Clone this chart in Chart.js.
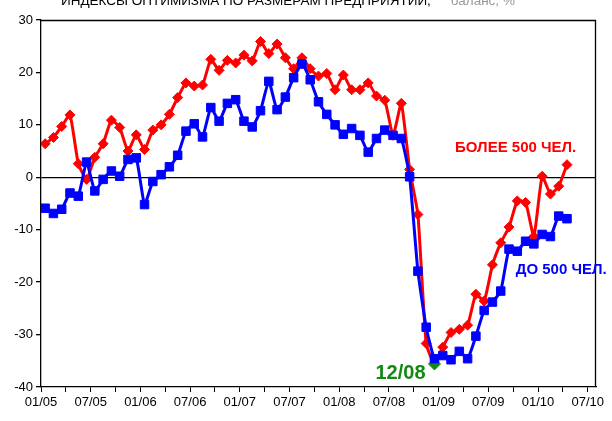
<!DOCTYPE html>
<html><head><meta charset="utf-8">
<script src="https://cdn.jsdelivr.net/npm/chart.js@4/dist/chart.umd.min.js"></script>
<style>html,body{margin:0;padding:0;background:#fff;} #wrap{position:relative;width:612px;height:421px;}</style>
</head><body><div id="wrap"><canvas id="c" width="612" height="421"></canvas></div>
<script>
// Month categories (axis slots), Jan 2005 .. Jul 2010
const months = [
 '01/05','02/05','03/05','04/05','05/05','06/05','07/05','08/05','09/05','10/05','11/05','12/05',
 '01/06','02/06','03/06','04/06','05/06','06/06','07/06','08/06','09/06','10/06','11/06','12/06',
 '01/07','02/07','03/07','04/07','05/07','06/07','07/07','08/07','09/07','10/07','11/07','12/07',
 '01/08','02/08','03/08','04/08','05/08','06/08','07/08','08/08','09/08','10/08','11/08','12/08',
 '01/09','02/09','03/09','04/09','05/09','06/09','07/09','08/09','09/09','10/09','11/09','12/09',
 '01/10','02/10','03/10','04/10','05/10','06/10','07/10'
];
// Series: more than 500 employees (red)
const large = [6.4,7.6,9.7,11.9,2.6,-0.4,3.8,6.4,10.9,9.5,5.0,8.1,
 5.3,9.0,10.0,12.0,15.2,18.0,17.4,17.6,22.5,20.4,22.3,21.8,
 23.3,22.2,25.9,23.6,25.4,22.8,20.7,22.8,20.7,19.3,19.8,16.7,
 19.5,16.7,16.7,18.0,15.5,14.7,8.0,14.1,1.5,-7.1,-31.7,-35.6,
 -32.4,-29.6,-29.0,-28.2,-22.3,-23.6,-16.7,-12.5,-9.5,-4.5,-4.8,-11.3,
 0.2,-3.2,-1.7,2.4];
// Series: up to 500 employees (blue)
const small = [-5.9,-6.9,-6.1,-3.0,-3.6,2.9,-2.6,-0.4,1.2,0.2,3.4,3.7,
 -5.2,-0.8,0.5,2.0,4.2,8.8,10.2,7.7,13.3,10.7,14.1,14.8,
 10.7,9.6,12.7,18.3,12.9,15.3,19.0,21.6,18.6,14.4,12.0,10.0,
 8.2,9.3,8.0,4.8,7.4,9.0,8.0,7.4,0.1,-17.9,-28.6,-34.6,
 -34.0,-34.8,-33.2,-34.6,-30.3,-25.4,-23.8,-21.7,-13.7,-14.1,-12.2,-12.7,
 -10.9,-11.3,-7.4,-7.9];
const yMin = -40, yMax = 30, yStep = 10;
const highlightIndex = 47; // 12/08
const titleMain = 'ИНДЕКСЫ ОПТИМИЗМА ПО РАЗМЕРАМ ПРЕДПРИЯТИЙ,';
const titleSub = 'баланс, %';
const notes = [
  {text:'БОЛЕЕ 500 ЧЕЛ.', x:57.3, y:5.7, color:'#ff0000', font:'bold 15px "Liberation Sans", Arial, sans-serif'},
  {text:'ДО 500 ЧЕЛ.', x:62.8, y:-17.6, color:'#0000ff', font:'bold 15px "Liberation Sans", Arial, sans-serif'},
  {text:'12/08', x:43.4, y:-37.5, color:'#108a10', font:'bold 20px "Liberation Sans", Arial, sans-serif'}
];

const toPts = arr => arr.map((v,i)=>({x:i+0.5, y:v}));
const F = '"Liberation Sans", Arial, sans-serif';

const framePlugin = {
  id:'frame',
  beforeDatasetsDraw(chart){
    const {ctx, chartArea:a} = chart;
    ctx.save();
    ctx.strokeStyle='#000'; ctx.lineWidth=1.3;
    ctx.beginPath();
    ctx.moveTo(a.left, a.top+0.5); ctx.lineTo(a.right-0.5, a.top+0.5); ctx.lineTo(a.right-0.5, a.bottom);
    ctx.stroke();
    ctx.restore();
  },
  afterDatasetsDraw(chart){
    const {ctx} = chart;
    const xs = chart.scales.x, ys = chart.scales.y;
    ctx.save();
    ctx.textAlign='center'; ctx.textBaseline='middle';
    notes.forEach(n=>{
      ctx.font=n.font; ctx.fillStyle=n.color;
      ctx.fillText(n.text, xs.getPixelForValue(n.x), ys.getPixelForValue(n.y));
    });
    ctx.textAlign='left'; ctx.textBaseline='alphabetic';
    ctx.font='13.5px '+F; ctx.fillStyle='#000';
    ctx.fillText(titleMain, 61, 5);
    const w = ctx.measureText(titleMain).width;
    ctx.fillStyle='#999';
    ctx.fillText(titleSub, 61+w+20, 5);
    ctx.restore();
  }
};

new Chart(document.getElementById('c'), {
  type:'line',
  data:{datasets:[
    {label:'ДО 500 ЧЕЛ.', data:toPts(small), borderColor:'#0000ff', backgroundColor:'#0000ff',
     borderWidth:3, pointStyle:'rect', pointRadius:6, pointBorderWidth:1, pointBorderColor:'#0000ff', tension:0.15},
    {label:'БОЛЕЕ 500 ЧЕЛ.', data:toPts(large), borderColor:'#ff0000',
     pointBackgroundColor: large.map((v,i)=> i===highlightIndex ? '#108a10' : '#ff0000'),
     pointBorderColor: large.map((v,i)=> i===highlightIndex ? '#108a10' : '#ff0000'),
     pointRadius: large.map((v,i)=> i===highlightIndex ? 6 : 5),
     borderWidth:3, pointStyle:'rectRot', pointBorderWidth:1, tension:0.15}
  ]},
  options:{
    responsive:false, animation:false, devicePixelRatio:1,
    layout:{padding:{top:20,right:16,left:0,bottom:0}},
    plugins:{legend:{display:false}, tooltip:{enabled:false}},
    scales:{
      x:{type:'linear', min:0, max:months.length,
        afterFit:s=>{s.height=34;},
        ticks:{stepSize:3, includeBounds:false, autoSkip:false, maxRotation:0, padding:3,
          color:'#000', font:{family:F, size:13},
          callback:v=> (v%6===0 ? months[v] : '')},
        grid:{drawOnChartArea:false, tickLength:5, tickColor:'#000', lineWidth:1},
        border:{color:'#000', width:1.3}
      },
      y:{min:yMin, max:yMax,
        afterFit:s=>{s.width=41;},
        ticks:{stepSize:yStep, color:'#000', font:{family:F, size:13}, padding:3},
        grid:{color:c=> c.tick && c.tick.value===0 ? '#000' : 'rgba(0,0,0,0)', tickColor:'#000', tickLength:5, lineWidth:1.3},
        border:{color:'#000', width:1.3}
      }
    }
  },
  plugins:[framePlugin]
});
</script></body></html>
